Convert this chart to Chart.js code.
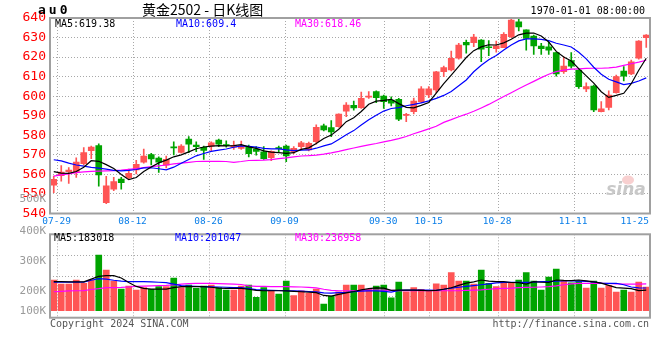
<!DOCTYPE html>
<html><head><meta charset="utf-8">
<script src="https://cdn.jsdelivr.net/npm/chart.js@4/dist/chart.umd.min.js"></script>
<style>
html,body{margin:0;padding:0;background:#fff;}
#wrap{position:relative;width:660px;height:360px;overflow:hidden;}
canvas{position:absolute;left:0;top:0;}
</style></head><body>
<div id="wrap"><canvas id="main" width="660" height="360"></canvas><canvas id="vol" width="660" height="360"></canvas></div>
<script>
// ---------- DATA ----------
const dates = ['07-26','07-29','07-30','07-31','08-01','08-02','08-05','08-06','08-07','08-08','08-09',
'08-12','08-13','08-14','08-15','08-16','08-19','08-20','08-21','08-22','08-23',
'08-26','08-27','08-28','08-29','08-30','09-02','09-03','09-04','09-05','09-06',
'09-09','09-10','09-11','09-12','09-13','09-18','09-19','09-20','09-23','09-24','09-25','09-26','09-27',
'09-30','10-08','10-09','10-10','10-11','10-14','10-15','10-16','10-17','10-18',
'10-21','10-22','10-23','10-24','10-25','10-28','10-29','10-30','10-31','11-01',
'11-04','11-05','11-06','11-07','11-08','11-11','11-12','11-13','11-14','11-15',
'11-18','11-19','11-20','11-21','11-22','11-25'];
const tickLabels = ['07-29','08-12','08-26','09-09','09-30','10-15','10-28','11-11','11-25'];
const priceTicks = [540,550,560,570,580,590,600,610,620,630,640];
const volTickLabels = ['500K','400K','300K','200K','100K'];

const opens  = [554.5,559.3,561.4,560.9,565.5,572.1,574.7,545.5,552.4,557.6,558.3,562.3,566.2,570.1,568.4,564.7,574.0,571.3,578.1,575.0,
573.8,574.5,577.6,575.1,573.9,573.3,574.4,573.0,571.5,568.5,573.4,574.5,571.6,574.2,572.5,576.7,584.9,583.9,584.4,592.4,
595.3,594.1,599.5,602.3,600.1,598.0,598.4,590.2,592.1,597.2,600.6,603.2,612.5,613.4,619.4,627.6,627.4,628.7,625.2,624.3,
624.8,630.4,638.1,633.9,630.8,625.7,625.3,622.3,612.5,618.2,613.4,603.7,605.2,592.1,594.3,601.8,612.9,611.4,619.4,629.9];
const closes = [557.5,561.2,562.2,566.3,571.1,574.0,559.7,554.1,556.3,555.8,560.6,565.2,569.4,567.9,566.2,567.7,573.6,574.5,575.5,574.2,
572.3,576.2,575.5,574.7,574.9,574.7,570.6,571.8,568.0,571.8,573.2,569.4,573.3,576.2,575.9,584.1,582.7,581.7,590.9,595.5,
594.0,598.9,600.1,599.2,597.2,596.4,588.2,590.6,597.5,603.8,603.8,612.5,614.6,619.4,626.2,626.2,630.3,624.1,624.8,625.8,
631.7,639.0,635.5,629.6,625.7,624.3,623.6,611.4,615.4,615.4,604.9,604.9,593.0,593.5,600.6,610.0,610.3,617.6,628.2,631.3];
const highs  = [559.2,564.5,563.5,568.5,573.7,574.5,575.7,559.0,558.5,558.5,562.7,567.2,573.0,570.8,569.0,569.4,576.6,575.2,579.3,576.7,
574.5,576.7,578.1,577.2,577.0,577.0,575.0,574.2,574.2,572.1,574.5,575.0,574.2,576.9,576.5,585.3,585.8,587.5,591.0,596.7,
597.5,602.1,602.3,602.8,600.6,599.7,598.9,591.3,599.0,604.9,604.9,612.7,615.4,623.1,627.0,628.7,631.7,628.9,628.5,628.2,
632.5,639.6,639.5,634.0,631.3,627.0,627.5,622.5,620.2,622.3,614.3,606.9,605.7,597.2,602.7,610.8,615.1,618.5,628.5,631.5];
const lows   = [550.6,556.6,555.4,558.5,564.8,568.0,554.0,545.0,551.7,552.4,557.5,560.2,565.7,564.8,561.0,563.3,570.0,570.8,571.1,571.6,
567.6,572.1,574.2,573.9,572.8,572.8,569.0,569.8,567.7,567.0,571.6,566.5,570.6,572.5,572.0,575.4,582.2,579.3,584.2,589.5,
592.9,593.8,598.9,596.7,593.8,595.0,587.5,587.0,591.0,596.7,599.2,601.8,610.0,612.9,619.0,622.0,625.3,617.6,620.7,622.5,
624.8,630.0,633.4,623.6,621.4,621.4,621.4,610.3,611.7,614.3,604.0,602.3,592.1,592.0,593.0,601.5,607.8,611.0,619.0,625.0];

const ma5  = [561.4,560.7,560.5,561.5,563.7,567.0,566.7,565.0,563.0,560.0,557.3,558.4,561.5,563.8,565.9,567.3,569.0,570.0,571.5,573.1,
574.0,574.5,574.7,574.6,574.7,575.2,574.1,573.3,572.0,571.4,571.1,570.8,571.1,572.8,573.6,575.8,578.4,580.1,583.1,587.0,
589.0,592.2,595.9,597.5,597.9,598.4,596.2,594.3,594.0,595.3,596.8,601.6,606.4,610.8,615.3,619.8,623.3,625.2,626.3,626.2,
627.3,629.1,631.4,632.3,632.3,630.8,627.7,622.9,620.1,618.0,614.1,610.4,606.7,602.3,599.4,600.4,601.5,606.4,613.3,619.4];
const ma10 = [567.5,566.9,565.8,564.8,564.2,563.6,563.2,562.7,562.1,561.8,562.1,562.5,563.3,563.4,562.9,562.3,563.7,565.7,567.6,569.5,
570.7,571.8,572.4,573.0,573.9,574.6,574.3,574.0,573.3,573.1,573.1,572.5,572.2,572.4,572.5,573.4,574.6,575.6,577.9,580.3,
582.4,585.3,588.0,590.3,592.4,593.7,594.2,595.1,595.8,596.6,597.6,598.9,600.4,602.4,605.3,608.3,612.5,615.8,618.6,620.8,
623.6,626.2,628.3,629.3,629.3,629.1,628.4,627.1,626.2,625.2,622.5,619.1,614.8,611.2,608.7,607.3,605.9,606.6,607.8,609.4];
const ma30 = [559.1,559.8,560.3,560.9,561.3,561.5,561.7,561.8,561.9,562.2,562.6,563.0,563.5,564.0,564.4,564.8,565.4,565.8,566.2,566.6,
566.7,566.7,566.7,566.6,566.2,566.6,567.1,567.2,567.3,567.6,568.1,568.5,569.0,569.4,569.6,569.9,570.4,571.0,571.8,572.7,
573.5,574.3,575.1,575.8,576.6,577.4,578.3,579.4,580.8,582.0,583.3,584.6,586.6,588.0,589.5,590.8,592.3,594.0,595.8,597.8,
599.8,601.8,603.8,605.7,607.6,609.5,611.2,612.6,613.3,613.8,614.0,614.2,614.3,614.3,614.5,614.9,615.8,616.6,617.4,618.4];

// volume in thousands of lots
const volume = [272,236,236,272,242,272,493,360,263,192,219,183,204,189,213,213,290,204,228,198,
219,228,204,183,183,219,226,118,204,180,148,263,133,175,154,192,59,130,168,228,
228,228,189,219,228,115,254,168,204,189,177,239,228,337,263,263,236,360,242,213,
248,248,272,337,263,183,299,369,263,248,263,201,263,201,222,166,183,166,254,210];
const vma5  = [257,257,256,255,255,280,305,310,310,290,250,215,198,192,192,192,205,213,213,213,
213,208,200,198,198,198,190,180,177,177,177,175,172,168,165,160,135,130,145,158,
170,185,195,203,200,180,182,183,183,180,177,180,190,203,225,245,255,272,262,257,
257,250,248,236,257,252,251,272,268,266,272,264,255,245,225,205,200,196,178,183];
const vma10 = [254,254,254,254,254,270,284,280,270,262,257,257,257,255,252,248,235,222,218,215,
213,212,210,208,205,204,196,186,183,181,179,177,175,173,170,166,158,155,160,162,
168,173,175,175,172,165,180,183,183,183,182,180,190,200,208,215,222,230,238,246,
251,251,251,251,253,257,258,261,263,263,262,260,255,245,243,243,230,210,203,201];
const vma30 = [168,172,175,177,178,188,195,204,204,206,210,215,218,220,222,224,228,236,240,243,
243,242,240,238,236,232,220,216,215,213,213,213,212,210,206,203,190,180,177,177,
177,180,182,183,182,180,178,177,177,177,177,177,177,177,177,180,183,185,190,196,
198,200,204,207,208,210,213,220,230,238,243,243,243,243,241,238,236,236,236,237];

const legendPrice = ['MA5:619.38','MA10:609.4','MA30:618.46'];
const legendVol = ['MA5:183018','MA10:201047','MA30:236958'];

// ---------- STYLE ----------
const UP = '#ff5555', DOWN = '#00a400';
const GRID = '#a8a8a8', FRAME = '#a0a0a0';
const MONO = '"DejaVu Sans Mono", monospace';
const N = dates.length;
const isUp = i => closes[i] >= opens[i];
const barColor = ctx => isUp(ctx.dataIndex) ? UP : DOWN;
const tickIdx = tickLabels.map(t => dates.indexOf(t));
const tickVal = i => -0.5 + i * N / (N - 1);

function xAxis() {
  return {
    type: 'linear', min: -0.5, max: N - 0.5, offset: false,
    afterBuildTicks: s => { s.ticks = tickIdx.map(i => ({ value: tickVal(i) })); },
    afterFit: s => { s.height = 0; },
    ticks: { display: false },
    grid: { color: GRID, lineWidth: 1, drawTicks: false, offset: false },
    border: { display: false, dash: [1, 2] }
  };
}
const pts = arr => arr.map((v, i) => ({ x: i, y: v }));
const lineDs = (arr, color, w) => ({ type: 'line', data: pts(arr), borderColor: color, borderWidth: w,
  pointRadius: 0, tension: 0, fill: false, order: 0 });

const framePlugin = {
  id: 'frame',
  afterDatasetsDraw(chart) {
    const a = chart.chartArea, c = chart.ctx;
    c.save(); c.strokeStyle = FRAME; c.lineWidth = 2;
    c.strokeRect(a.left, a.top, a.right - a.left, a.bottom - a.top);
    c.restore();
  }
};

const mainText = {
  id: 'mainText',
  afterDraw(chart) {
    const c = chart.ctx;
    c.save();
    c.textBaseline = 'middle';
    c.fillStyle = '#000'; c.textAlign = 'left';
    c.font = 'bold 13px ' + MONO;
    c.letterSpacing = '3px';
    c.fillText('au0', 38, 11);
    c.letterSpacing = '0px';
    c.font = '14px "Noto Sans CJK SC"';
    c.fillText('黄金2502 - 日K线图', 142, 10);
    c.font = '10px ' + MONO; c.textAlign = 'right';
    c.fillText('1970-01-01 08:00:00', 645, 11);
    // MA legend
    c.textAlign = 'left'; c.font = '10px ' + MONO;
    c.fillStyle = '#000'; c.fillText(legendPrice[0], 55, 24);
    c.fillStyle = '#0000ff'; c.fillText(legendPrice[1], 176, 24);
    c.fillStyle = '#ff00ff'; c.fillText(legendPrice[2], 295, 24);
    // date labels
    const xs = chart.scales.x;
    c.font = '9.5px ' + MONO; c.fillStyle = '#0a7ee8'; c.textAlign = 'center';
    tickLabels.forEach((t, k) => {
      const px = xs.getPixelForValue(tickVal(tickIdx[k]));
      const w = c.measureText(t).width;
      const cx = Math.min(px - 1, 649 - w / 2);
      c.fillText(t, cx, 222);
    });
    // watermark
    c.fillStyle = 'rgba(240,150,150,0.45)';
    c.beginPath(); c.ellipse(628, 180, 6, 4.5, 0, 0, Math.PI * 2); c.fill();
    c.font = 'italic bold 17px "DejaVu Sans"'; c.fillStyle = '#c8c8c8'; c.textAlign = 'center';
    c.fillText('sina', 626, 191);
    c.restore();
  }
};

new Chart(document.getElementById('main'), {
  data: {
    datasets: [
      lineDs(ma5, '#000000', 1.2),
      lineDs(ma10, '#0000ff', 1.2),
      lineDs(ma30, '#ff00ff', 1.2),
      { type: 'bar', data: opens.map((o, i) => ({ x: i, y: [o, closes[i]] })), backgroundColor: barColor,
        barThickness: 6, minBarLength: 1, grouped: false, order: 2, borderWidth: 0 },
      { type: 'bar', data: lows.map((l, i) => ({ x: i, y: [l, highs[i]] })), backgroundColor: barColor,
        barThickness: 1, grouped: false, order: 3, borderWidth: 0 }
    ]
  },
  options: {
    responsive: false, animation: false, devicePixelRatio: 1,
    layout: { padding: { left: 0, right: 10, top: 18, bottom: 146.5 } },
    plugins: { legend: { display: false }, tooltip: { enabled: false } },
    scales: {
      x: xAxis(),
      y: { type: 'linear', min: priceTicks[0], max: priceTicks[priceTicks.length - 1],
        afterBuildTicks: s => { s.ticks = priceTicks.map(v => ({ value: v })); },
        afterFit: s => { s.width = 50; },
        ticks: { color: '#ff0000', font: { family: 'DejaVu Sans Mono', size: 13 }, padding: 4 },
        grid: { color: GRID, lineWidth: 1, drawTicks: false },
        border: { display: false, dash: [1, 2] } }
    }
  },
  plugins: [framePlugin, mainText]
});

const volText = {
  id: 'volText',
  afterDraw(chart) {
    const c = chart.ctx;
    c.save(); c.textBaseline = 'middle';
    c.font = '10px ' + MONO; c.textAlign = 'left';
    c.fillStyle = '#000'; c.fillText(legendVol[0], 54, 238);
    c.fillStyle = '#0000ff'; c.fillText(legendVol[1], 175, 238);
    c.fillStyle = '#ff00ff'; c.fillText(legendVol[2], 295, 238);
    c.fillStyle = '#555'; c.fillText('Copyright 2024 SINA.COM', 50, 324);
    c.textAlign = 'right'; c.fillText('http://finance.sina.com.cn', 649, 324);
    c.font = '11px ' + MONO; c.fillStyle = '#9a9a9a';
    const ys = [199.5, 230.7, 260.7, 290.7, 310.7];
    volTickLabels.forEach((t, k) => c.fillText(t, 46, ys[k]));
    c.restore();
  }
};

const VMIN = -62, VMAX = 677;
new Chart(document.getElementById('vol'), {
  data: {
    datasets: [
      lineDs(vma5, '#000000', 1.2),
      lineDs(vma10, '#0000ff', 1.2),
      lineDs(vma30, '#ff00ff', 1.2),
      { type: 'bar', data: volume.map((v, i) => ({ x: i, y: v })), backgroundColor: barColor,
        barThickness: 6, grouped: false, order: 2, borderWidth: 0 }
    ]
  },
  options: {
    responsive: false, animation: false, devicePixelRatio: 1,
    layout: { padding: { left: 0, right: 10, top: 234.3, bottom: 42.3 } },
    plugins: { legend: { display: false }, tooltip: { enabled: false } },
    scales: {
      x: xAxis(),
      y: { type: 'linear', min: VMIN, max: VMAX,
        afterBuildTicks: s => { s.ticks = [0, 1, 2, 3, 4].map(k => ({ value: VMIN + k * (VMAX - VMIN) / 4 })); },
        afterFit: s => { s.width = 50; },
        ticks: { display: false },
        grid: { color: GRID, lineWidth: 1, drawTicks: false },
        border: { display: false, dash: [1, 2] } }
    }
  },
  plugins: [framePlugin, volText]
});
</script>
</body></html>
